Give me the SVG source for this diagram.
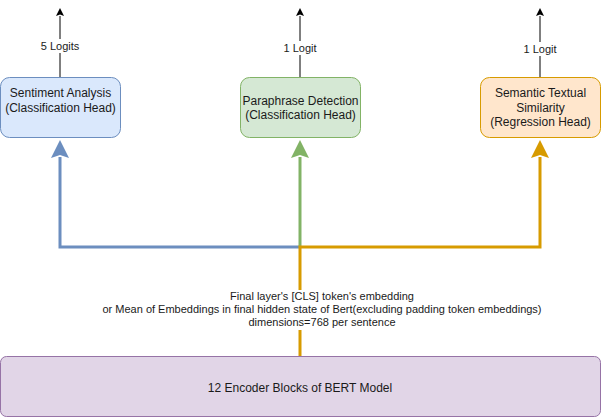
<svg xmlns="http://www.w3.org/2000/svg" width="601" height="418" viewBox="0 0 601 418">
<defs>
<style>
text{font-family:"Liberation Sans",Arial,sans-serif;fill:#1a1a1a;text-anchor:middle}
.box{font-size:12px}
.lbl{font-size:11px}
.thin{stroke:#000;stroke-width:1;fill:none}
.thick{stroke-width:3;fill:none}
</style>
<marker id="ab" viewBox="0 0 8 8" refX="0" refY="4" markerWidth="8" markerHeight="8" markerUnits="userSpaceOnUse" orient="auto"><path d="M0,0 L8,4 L0,8 L1.5,4 Z" fill="#000"/></marker>
<marker id="ablue" viewBox="0 0 18 18" refX="1" refY="9" markerWidth="18" markerHeight="18" markerUnits="userSpaceOnUse" orient="auto"><path d="M0,0 L18,9 L0,18 L3,9 Z" fill="#6c8ebf"/></marker>
<marker id="agreen" viewBox="0 0 18 18" refX="1" refY="9" markerWidth="18" markerHeight="18" markerUnits="userSpaceOnUse" orient="auto"><path d="M0,0 L18,9 L0,18 L3,9 Z" fill="#82b366"/></marker>
<marker id="ayellow" viewBox="0 0 18 18" refX="1" refY="9" markerWidth="18" markerHeight="18" markerUnits="userSpaceOnUse" orient="auto"><path d="M0,0 L18,9 L0,18 L3,9 Z" fill="#d79b00"/></marker>
</defs>
<rect width="601" height="418" fill="#fff"/>
<g id="connectors">
<path class="thin" d="M60,77 V16" marker-end="url(#ab)"/>
<path class="thin" d="M300,77 V16" marker-end="url(#ab)"/>
<path class="thin" d="M540,77 V16" marker-end="url(#ab)"/>
<path class="thick" stroke="#6c8ebf" d="M300,247 H60 V157" marker-end="url(#ablue)"/>
<path class="thick" stroke="#82b366" d="M300,247 V157" marker-end="url(#agreen)"/>
<path class="thick" stroke="#d79b00" d="M300,356 V247 H540 V157" marker-end="url(#ayellow)"/>
<rect x="38" y="39" width="44" height="14" fill="#fff"/>
<text class="lbl" x="60" y="50">5 Logits</text>
<rect x="280" y="41" width="40" height="14" fill="#fff"/>
<text class="lbl" x="300" y="52">1 Logit</text>
<rect x="520" y="42" width="40" height="14" fill="#fff"/>
<text class="lbl" x="540" y="53">1 Logit</text>
<rect x="100" y="290" width="444" height="40" fill="#fff"/>
<text class="lbl" x="322" y="300">Final layer's [CLS] token's embedding</text>
<text class="lbl" x="322" y="313">or Mean of Embeddings in final hidden state of Bert(excluding padding token embeddings)</text>
<text class="lbl" x="322" y="326">dimensions=768 per sentence</text>
</g>
<g id="sentiment">
<rect x="0.5" y="77.5" width="120" height="60" rx="9" fill="#dae8fc" stroke="#6c8ebf"/>
<text class="box" x="60.5" y="97">Sentiment Analysis</text>
<text class="box" x="60.5" y="111.5">(Classification Head)</text>
</g>
<g id="paraphrase">
<rect x="240.5" y="77.5" width="120" height="60" rx="9" fill="#d5e8d4" stroke="#82b366"/>
<text class="box" x="300.5" y="104.5">Paraphrase Detection</text>
<text class="box" x="300.5" y="119">(Classification Head)</text>
</g>
<g id="sts">
<rect x="480.5" y="77.5" width="120" height="60" rx="9" fill="#ffe6cc" stroke="#d79b00"/>
<text class="box" x="540.5" y="97">Semantic Textual</text>
<text class="box" x="540.5" y="111.5">Similarity</text>
<text class="box" x="540.5" y="126">(Regression Head)</text>
</g>
<g id="encoder">
<rect x="0.5" y="356.5" width="600" height="60" rx="6" fill="#e1d5e7" stroke="#9673a6"/>
<text class="box" x="300" y="392">12 Encoder Blocks of BERT Model</text>
</g>
</svg>
